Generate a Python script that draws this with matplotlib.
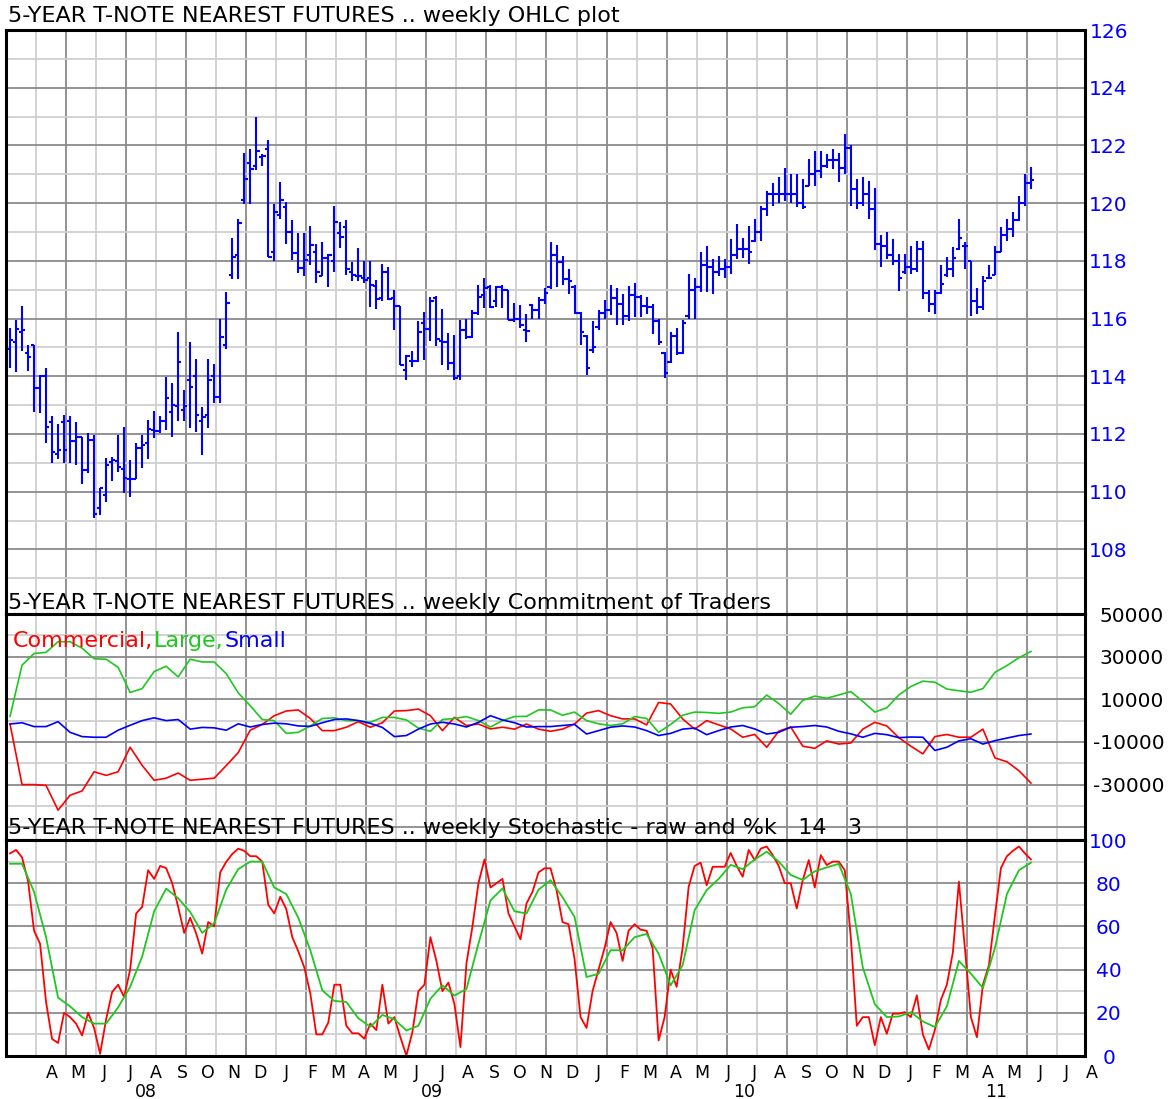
import numpy as np
import matplotlib
matplotlib.use('Agg')
import matplotlib.pyplot as plt
from matplotlib.transforms import blended_transform_factory

plt.rcParams['font.family'] = 'DejaVu Sans'
plt.rcParams['axes.unicode_minus'] = False

############################################################
# weekly OHLC, 5-year T-note nearest futures (one value per week)
opens = [114.96, 115.19, 115.54, 114.82, 115.10, 113.60, 114.01, 112.40, 111.32, 112.40,
         112.44, 111.75, 111.90, 110.75, 111.79, 109.42, 109.88, 111.03, 111.06, 110.80,
         110.43, 110.43, 111.52, 111.70, 112.13, 112.10, 112.45, 112.77, 112.97, 112.82,
         113.86, 114.01, 112.45, 112.65, 114.01, 113.29, 115.10, 117.50, 118.20, 120.10,
         121.40, 121.30, 121.60, 121.86, 118.30, 119.60, 119.86, 119.00, 118.26, 117.75,
         118.20, 118.30, 117.46, 118.10, 118.00, 118.98, 119.18, 117.63, 117.46, 117.40,
         117.40, 117.12, 116.72, 117.63, 116.72, 116.43, 114.20, 114.53, 114.53, 115.83,
         115.63, 116.72, 115.23, 115.18, 114.46, 114.00, 115.60, 115.35, 116.20, 116.80,
         117.10, 116.60, 117.10, 116.98, 115.94, 116.00, 115.60, 116.48, 116.30, 116.63,
         117.10, 118.20, 117.95, 117.38, 117.10, 116.20, 115.40, 114.90, 115.70, 116.20,
         116.30, 116.70, 116.50, 116.10, 116.80, 116.75, 116.45, 116.40, 115.90, 114.80,
         114.50, 115.40, 114.80, 116.10, 117.00, 117.10, 117.85, 117.80, 117.60, 117.70,
         117.80, 118.20, 118.40, 118.40, 118.70, 119.00, 119.80, 120.30, 120.30, 120.30,
         120.30, 120.30, 120.00, 120.60, 121.00, 121.10, 121.30, 121.50, 121.50, 121.20,
         121.90, 120.50, 120.00, 120.30, 119.80, 118.60, 118.50, 118.20, 118.00, 117.60,
         117.80, 117.70, 118.40, 116.90, 116.50, 116.90, 117.50, 117.70, 118.40, 118.50,
         118.00, 116.60, 116.40, 117.40, 117.50, 118.30, 118.90, 119.10, 119.40, 120.00,
         120.70]
highs = [115.68, 115.94, 116.44, 115.10, 115.10, 114.06, 114.27, 112.63, 112.33, 112.67,
         112.63, 112.40, 111.90, 112.05, 111.96, 110.11, 111.15, 111.21, 111.98, 112.25,
         111.09, 111.70, 111.98, 112.47, 112.79, 112.63, 113.98, 113.78, 115.54, 113.52,
         115.19, 114.61, 112.94, 114.61, 114.41, 116.00, 116.92, 118.78, 119.46, 121.75,
         121.89, 122.98, 121.70, 122.20, 119.98, 120.72, 120.03, 119.40, 118.95, 118.98,
         119.20, 118.57, 118.66, 118.23, 119.90, 119.35, 119.40, 117.95, 118.46, 118.00,
         118.00, 117.35, 117.89, 117.77, 117.00, 116.43, 114.72, 114.89, 115.92, 116.24,
         116.74, 116.77, 116.32, 115.50, 115.43, 115.94, 116.00, 116.29, 117.17, 117.40,
         117.17, 117.13, 117.17, 116.98, 116.55, 116.48, 116.17, 116.52, 116.75, 117.06,
         118.64, 118.55, 118.16, 117.70, 117.15, 116.23, 115.43, 115.90, 116.29, 116.63,
         117.17, 117.06, 116.86, 117.13, 117.24, 116.83, 116.75, 116.52, 116.00, 114.85,
         115.52, 115.66, 115.94, 117.55, 117.40, 118.32, 118.50, 118.07, 118.18, 118.07,
         118.76, 119.28, 118.80, 119.22, 119.45, 119.89, 120.43, 120.71, 120.92, 121.20,
         121.00, 121.00, 120.83, 121.54, 121.80, 121.80, 121.69, 121.86, 121.75, 122.38,
         122.00, 120.85, 120.92, 120.77, 120.54, 118.90, 119.00, 118.76, 118.24, 118.24,
         118.53, 118.70, 118.70, 116.98, 116.98, 117.84, 118.13, 118.47, 119.45, 118.64,
         118.00, 117.06, 117.49, 117.84, 118.50, 119.16, 119.45, 119.68, 120.25, 121.00,
         121.26]
lows = [114.30, 114.15, 114.87, 114.18, 112.77, 112.71, 111.67, 110.98, 111.13, 111.01,
        111.01, 110.94, 110.28, 110.65, 109.09, 109.19, 109.65, 110.36, 110.69, 109.94,
        109.82, 110.43, 110.83, 111.13, 111.87, 112.02, 112.13, 111.90, 112.45, 112.44,
        112.21, 112.07, 111.27, 112.19, 113.06, 113.09, 114.96, 117.38, 117.38, 119.98,
        119.98, 121.15, 121.30, 118.15, 118.00, 119.46, 118.60, 118.03, 117.58, 117.46,
        117.86, 117.23, 117.46, 117.08, 117.63, 118.43, 117.52, 117.31, 117.31, 117.23,
        116.41, 116.32, 116.60, 116.63, 115.60, 114.38, 113.88, 114.32, 114.49, 114.57,
        115.23, 115.06, 114.38, 114.20, 113.87, 113.87, 115.30, 115.33, 116.11, 116.37,
        116.35, 116.40, 116.35, 115.94, 115.88, 115.66, 115.20, 116.00, 116.00, 116.52,
        117.03, 117.10, 117.15, 116.86, 116.17, 115.08, 114.05, 114.80, 115.60, 116.00,
        116.11, 115.77, 115.77, 115.90, 116.06, 116.06, 116.17, 115.45, 115.08, 113.93,
        114.45, 114.74, 114.76, 116.00, 116.00, 116.92, 116.92, 116.86, 117.49, 117.40,
        117.55, 118.07, 118.10, 117.90, 118.64, 118.67, 119.56, 119.91, 120.02, 120.08,
        120.00, 119.85, 119.80, 120.60, 120.60, 120.88, 121.20, 121.17, 120.74, 121.00,
        119.90, 119.80, 119.90, 119.45, 118.36, 117.78, 118.05, 117.84, 116.94, 117.55,
        117.55, 117.60, 116.67, 116.23, 116.17, 116.86, 117.44, 117.44, 118.36, 117.72,
        116.10, 116.17, 116.29, 117.38, 117.50, 118.30, 118.70, 118.82, 119.39, 119.90,
        120.48]
closes = [115.25, 115.65, 115.60, 114.67, 113.58, 114.01, 112.25, 111.38, 111.44, 111.44,
          111.75, 111.90, 110.75, 111.79, 109.24, 110.11, 110.94, 111.09, 110.86, 110.48,
          110.43, 111.50, 111.61, 112.17, 112.10, 112.45, 113.23, 113.00, 114.48, 112.97,
          113.63, 112.65, 112.59, 113.86, 113.29, 115.36, 116.55, 118.15, 119.30, 120.83,
          121.18, 121.80, 121.63, 118.15, 119.70, 120.10, 119.00, 118.26, 117.75, 118.03,
          118.55, 117.60, 118.10, 118.20, 119.35, 118.83, 117.70, 117.52, 117.46, 117.35,
          117.15, 116.66, 117.63, 116.66, 116.43, 114.38, 114.69, 114.53, 115.52, 115.63,
          116.60, 115.29, 115.18, 114.46, 113.95, 115.60, 115.35, 116.20, 116.75, 117.05,
          116.40, 117.10, 116.98, 115.94, 116.00, 115.77, 115.56, 116.30, 116.63, 116.90,
          118.20, 117.95, 117.38, 117.30, 116.20, 115.52, 114.28, 115.00, 116.20, 116.30,
          116.70, 116.50, 116.10, 116.80, 116.75, 116.45, 116.40, 115.90, 115.20, 114.10,
          115.40, 114.80, 115.85, 117.00, 117.10, 117.85, 117.80, 117.60, 117.70, 117.80,
          118.20, 118.40, 118.40, 118.30, 119.00, 119.80, 120.30, 120.30, 120.30, 120.30,
          120.30, 120.00, 119.85, 121.00, 121.10, 121.30, 121.50, 121.50, 121.20, 121.90,
          120.50, 120.00, 120.30, 119.80, 118.60, 118.50, 118.20, 118.00, 117.40, 117.80,
          117.70, 118.40, 116.90, 116.50, 116.90, 117.20, 117.70, 118.10, 118.80, 118.50,
          116.60, 116.40, 117.30, 117.40, 118.30, 118.90, 119.10, 119.40, 120.00, 120.70,
          120.80]

# Commitment of Traders net positions, every 2nd week [thousand contracts]
commercial = [-1.6, -30, -30, -30.4, -42, -35, -33, -24, -25.7, -24,
              -12.5, -21, -28, -27, -24.6, -28, -27.5, -27, -21.1, -15,
              -4.5, -1.8, 2.3, 4.5, 5, 1, -4.7, -4.7, -3.1, -0.5,
              -3.1, -1, 4.5, 4.7, 5.4, 2.3, -4.7, 1.5, -2.3, -1.6,
              -3.9, -3.1, -4, -1.6, -4, -5, -4, -1.6, 3.5, 4.7,
              2.3, 0.8, 0.8, -2.0, 8.5, 7.8, 0.8, -4, 0, -2,
              -3.9, -7.8, -6.5, -12.5, -5, -3, -12, -13, -9.5, -11,
              -10.5, -4, -0.8, -2.5, -8, -12, -15.6, -7.5, -6.5, -7.8,
              -7.8, -4, -17.5, -19.3, -23.5, -29.3]
large = [2.0, 26, 31.5, 32, 37, 37, 34, 29, 28.8, 25,
         13.2, 15, 23, 25.5, 20.5, 28.8, 27.5, 27.5, 22, 13,
         7, 0.5, 0, -6, -5.5, -2.5, 1, 1.3, 0, 0,
         -0.8, 1.5, 1.5, 0.3, -3.5, -5, 0.5, 1, 1.9, 0,
         -3, 0, 1.9, 2, 5, 5, 2.5, 4, 0, -1.5,
         -2.3, -1.5, 1.9, 1, -5.5, -1.8, 2.5, 4, 3.8, 3.4,
         4, 6, 6.5, 12, 8, 3, 9.5, 11.5, 10.5, 12,
         13.6, 9, 4, 6, 12, 16, 18.5, 18, 14.8, 14,
         13.3, 15, 22.6, 25.8, 29.5, 32.4]
small = [-1.6, -1.0, -2.8, -2.8, -0.5, -5.5, -7.5, -7.8, -7.8, -4.5,
         -2.2, 0, 1.3, 0, 0.5, -4, -3.2, -3.4, -4.5, -1.5,
         -3, -1.8, -1.2, -1.5, -2.5, -2.7, -1, 0.5, 0.8, 0,
         -1.3, -3.2, -7.5, -7.0, -4, -1.6, -0.8, -1.6, -3, -0.8,
         2.3, 0.3, -1, -3, -2.8, -2.8, -2.3, -1.8, -6.3, -4.7,
         -3.1, -2.5, -3, -4.7, -7, -6, -4, -3.5, -6.6, -4.7,
         -3, -2.3, -3.9, -6.3, -5.5, -3.1, -2.8, -2.3, -3, -5,
         -6.2, -7.8, -6, -6.6, -8, -7.7, -7.8, -14, -12.5, -9.5,
         -8.5, -11, -9.4, -8.2, -7, -6.3]

# Stochastic 14/3: raw value every week, %k every 2nd week
stoch_raw = [93.8, 95.4, 92, 81, 58, 52, 25, 7.9, 6, 20,
             18, 15, 9.5, 20, 13, 1.0, 17, 29.6, 33, 27.3,
             40, 66, 69, 86, 82, 88, 87, 80, 69, 57,
             64, 56.7, 47.4, 62, 60, 85, 89.9, 93.5, 96, 95,
             92.5, 92.5, 90, 70, 66, 73.7, 68, 55, 48.5, 41,
             29, 10, 10, 15.5, 33, 33, 14, 10.5, 10.5, 8,
             15, 12, 33, 15, 18, 8.7, 0.2, 11, 30, 33,
             55, 44, 30, 34, 24, 4.1, 42.8, 60, 80, 91,
             78, 80, 82, 66, 60, 54, 70.6, 76, 85, 86.9,
             86.9, 76.8, 62, 61, 45, 18, 13, 30, 40, 50,
             62, 57, 44, 58, 61, 58.5, 58, 50, 7.2, 18,
             40, 32, 50, 78.3, 88, 89.5, 79, 87.6, 87.6, 87.6,
             94, 88, 83, 95.4, 90.7, 96, 97, 93, 88, 80,
             80, 68.3, 81.4, 90.7, 78, 93, 88.4, 90, 90, 86,
             55, 14, 18, 18, 5, 18, 10.3, 19.6, 19.6, 20.3,
             18, 28.1, 10, 3, 12, 26, 33, 48, 80.7, 50,
             18, 8.7, 33, 42, 65, 87, 92.5, 95, 97, 93.8,
             91]
stoch_k = [89, 89, 76, 55, 27, 23, 18, 15, 15, 22.5,
           32, 46, 67, 77.5, 73, 66.7, 57, 61.5, 77, 86.5,
           90, 90, 78, 75, 64, 49, 30.4, 25.5, 25, 17.5,
           13.5, 19, 17, 11.8, 14, 26.5, 32.7, 28, 31, 52,
           72, 77.6, 67, 66, 77, 81.4, 73.5, 64.4, 36.6, 38,
           49, 48.9, 55, 56.5, 47.4, 32.7, 42, 67.5, 76.8, 82,
           88.5, 86.5, 91, 94.6, 90, 83.8, 81.5, 85.5, 87.3, 89,
           75, 41, 24, 18, 18.3, 20.3, 16, 13.4, 23, 44,
           38.1, 31.5, 50, 75, 86, 89.5]

months = list('AMJJASOND') + list('JFMAMJJASOND') * 2 + list('JFMAMJJA')
years = ['08', '09', '10', '11']

############################################################
# layout (pixels of the 1168x1099 picture)
W, H = 1168., 1099.
left_px, right_px = 6, 1085
first_month = 7.0        # week position of the first month label (Apr 08)
weeks_per_month = 4.33
year_at_month = [3.6, 14.6, 26.6, 36.3]
xlim = (-0.67, 179.0)

blue = '#0000ff'
green = '#1ec81e'
red = '#ff0000'
dark = '#8a8a8a'
light = '#cfcfcf'
title_fs = 16


def add_panel(top_px, bottom_px):
    ax = fig.add_axes([left_px / W, 1 - bottom_px / H,
                       (right_px - left_px) / W, (bottom_px - top_px) / H])
    ax.set_xlim(*xlim)
    for s in ax.spines.values():
        s.set_linewidth(2.2)
        s.set_color('black')
        s.set_zorder(5)
    ax.yaxis.tick_right()
    ax.tick_params(length=0)
    ax.set_xticks([])
    return ax


def draw_grid(ax, dark_y, light_y):
    for k in range(1, 36):
        ax.axvline(xlim[0] + 5 * k, color=dark if k % 2 == 0 else light,
                   lw=1.3, zorder=1)
    for y in light_y:
        ax.axhline(y, color=light, lw=1.3, zorder=1)
    for y in dark_y:
        ax.axhline(y, color=dark, lw=1.3, zorder=1)


def label_align(ax, ha, pad):
    ax.tick_params(axis='y', pad=pad)
    for t in ax.get_yticklabels():
        t.set_horizontalalignment(ha)


fig = plt.figure(figsize=(W / 100, H / 100), dpi=100)

############################################################
# OHLC panel
ax1 = add_panel(30, 614)
ax1.set_ylim(105.76, 126)
draw_grid(ax1, np.arange(108, 127, 2), np.arange(107, 126, 2))
wk = np.arange(len(closes))
ax1.vlines(wk, lows, highs, color=blue, lw=1.5, zorder=3)
ax1.hlines(opens, wk - 0.55, wk, color=blue, lw=1.5, zorder=3)
ax1.hlines(closes, wk, wk + 0.55, color=blue, lw=1.5, zorder=3)
ax1.set_yticks(np.arange(108, 127, 2))
ax1.tick_params(axis='y', labelsize=14.5, labelcolor=blue)
label_align(ax1, 'center', 17)

############################################################
# Commitment of Traders panel
ax2 = add_panel(614, 840)
ax2.set_ylim(-56, 50)
draw_grid(ax2, [30, 10, -10, -30, -50], [40, 20, 0, -20, -40])
wk2 = np.arange(0, len(closes), 2)
ax2.plot(wk2, commercial, color=red, lw=1.2, zorder=3)
ax2.plot(wk2, large, color=green, lw=1.2, zorder=3)
ax2.plot(wk2, small, color=blue, lw=1.2, zorder=3)
cot_ticks = [50, 30, 10, -10, -30]
ax2.set_yticks(cot_ticks)
ax2.set_yticklabels(['%d' % (v * 1000) for v in cot_ticks])
ax2.tick_params(axis='y', labelsize=14.5, labelcolor='black')
label_align(ax2, 'right', 57)

############################################################
# Stochastic panel
ax3 = add_panel(840, 1056)
ax3.set_ylim(0, 100)
draw_grid(ax3, [20, 40, 60, 80], [10, 30, 50, 70, 90])
ax3.plot(wk, stoch_raw, color=red, lw=1.3, zorder=3)
ax3.plot(wk2, stoch_k, color=green, lw=1.3, zorder=3)
ax3.set_yticks(np.arange(0, 101, 20))
ax3.tick_params(axis='y', labelsize=14.5, labelcolor=blue)
label_align(ax3, 'center', 17)

# month letters and year numbers under the bottom panel
trans = blended_transform_factory(ax3.transData, ax3.transAxes)
month_y = -(1078 - 1056) / 216.
year_y = -(1097 - 1056) / 216.
for k, m in enumerate(months):
    ax3.text(first_month + weeks_per_month * k, month_y, m, transform=trans,
             ha='center', va='baseline', fontsize=12.5)
for m, y in zip(year_at_month, years):
    ax3.text(first_month + weeks_per_month * m, year_y, y, transform=trans,
             ha='center', va='baseline', fontsize=12.5)

############################################################
# titles and series names
fig.text(8 / W, 1 - 16 / H, '5-YEAR T-NOTE NEAREST FUTURES .. weekly OHLC plot',
         fontsize=title_fs, va='center', ha='left')
fig.text(8 / W, 1 - 603 / H,
         '5-YEAR T-NOTE NEAREST FUTURES .. weekly Commitment of Traders',
         fontsize=title_fs, va='center', ha='left', zorder=10)
fig.text(8 / W, 1 - 828 / H,
         '5-YEAR T-NOTE NEAREST FUTURES .. weekly Stochastic - raw and %k   14   3',
         fontsize=title_fs, va='center', ha='left', zorder=10)

renderer = fig.canvas.get_renderer()
xpx = 13
for name, col in [('Commercial,', red), ('Large,', green), ('Small', blue)]:
    t = fig.text(xpx / W, 1 - 641 / H, name, color=col, fontsize=16,
                 va='center', ha='left', zorder=10)
    xpx = t.get_window_extent(renderer=renderer).x1 + 1

fig.savefig('out.png', dpi=100)
